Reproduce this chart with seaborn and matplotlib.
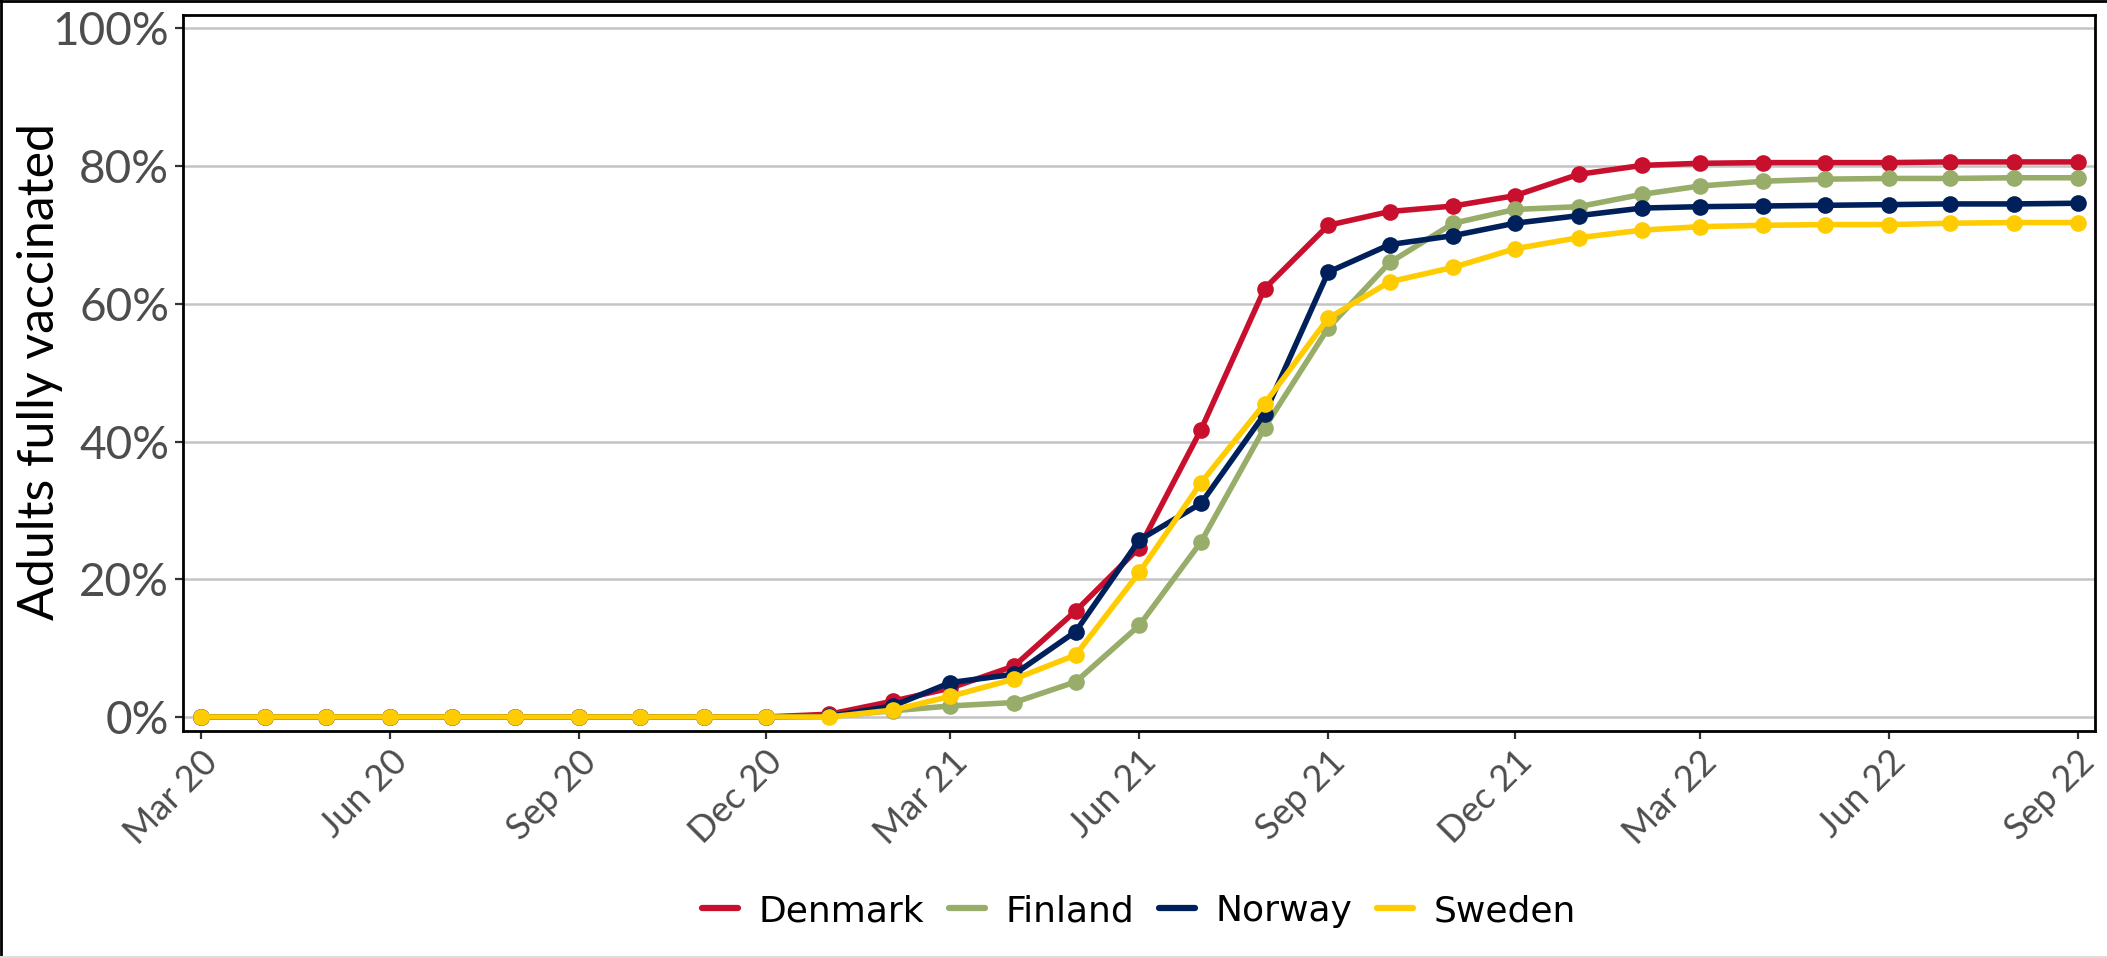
import pandas as pd
import seaborn as sns
import matplotlib.pyplot as plt
import matplotlib.dates as mdates
from matplotlib.lines import Line2D

# monthly share of adults fully vaccinated (%), Mar 2020 - Sep 2022
months = pd.date_range("2020-03-01", "2022-09-01", freq="MS")

denmark = [0, 0, 0, 0, 0, 0, 0, 0, 0, 0,
           0.4, 2.3, 4.2, 7.4, 15.4, 24.6, 41.7, 62.2, 71.4, 73.4, 74.2,
           75.7, 78.8, 80.1, 80.4, 80.5, 80.5, 80.5, 80.6, 80.6, 80.6]
finland = [0, 0, 0, 0, 0, 0, 0, 0, 0, 0,
           0.1, 0.9, 1.6, 2.1, 5.1, 13.3, 25.4, 42.0, 56.5, 66.0, 71.7,
           73.7, 74.1, 75.9, 77.1, 77.8, 78.1, 78.2, 78.2, 78.3, 78.3]
norway = [0, 0, 0, 0, 0, 0, 0, 0, 0, 0,
          0.1, 1.6, 5.0, 6.2, 12.4, 25.7, 31.0, 44.0, 64.6, 68.6, 69.9,
          71.7, 72.8, 73.9, 74.1, 74.2, 74.3, 74.4, 74.5, 74.5, 74.6]
sweden = [0, 0, 0, 0, 0, 0, 0, 0, 0, 0,
          0.0, 1.0, 3.0, 5.5, 9.0, 21.0, 34.0, 45.5, 57.9, 63.2, 65.3,
          68.0, 69.6, 70.7, 71.2, 71.4, 71.5, 71.5, 71.7, 71.8, 71.8]

countries = ["Denmark", "Finland", "Norway", "Sweden"]
colors = ["#C8102E", "#97AD69", "#00205B", "#FECC00"]

df = pd.concat([
    pd.DataFrame({"date": months, "share": vals, "country": name})
    for name, vals in zip(countries, [denmark, finland, norway, sweden])
])

sns.set_style("white")
plt.rcParams["font.family"] = ["Lato", "DejaVu Sans"]

fig = plt.figure(figsize=(21.07, 9.58), dpi=100)
ax = fig.add_axes([0.0869, 0.2370, 0.9074, 0.7473])

sns.lineplot(data=df, x="date", y="share", hue="country", hue_order=countries,
             palette=colors, marker="o", markersize=12, markeredgewidth=0,
             linewidth=4, legend=False, ax=ax, zorder=3)

ax.set_xlim(pd.Timestamp("2020-03-01") - pd.Timedelta(days=8.8),
            pd.Timestamp("2022-09-01") + pd.Timedelta(days=8.5))
ax.set_ylim(-2.03, 101.93)
ax.set_yticks([0, 20, 40, 60, 80, 100])
ax.set_yticklabels([f"{v}%" for v in [0, 20, 40, 60, 80, 100]])

ax.xaxis.set_major_locator(mdates.MonthLocator(bymonth=[3, 6, 9, 12]))
ax.xaxis.set_major_formatter(mdates.DateFormatter("%b %y"))
plt.setp(ax.get_xticklabels(), rotation=45, ha="right", rotation_mode="anchor")

ax.grid(axis="y", color="#C4C4C4", linewidth=1.8)
ax.grid(axis="x", visible=False)
for s in ax.spines.values():
    s.set_visible(True)
    s.set_color("black")
    s.set_linewidth(2)

ax.tick_params(axis="y", labelsize=33, colors="#333333", labelcolor="#4D4D4D",
               length=6, width=1.6, direction="out", left=True, pad=4)
ax.tick_params(axis="x", labelsize=26, colors="#333333", labelcolor="#4D4D4D",
               length=6, width=1.6, direction="out", bottom=True, pad=4)

ax.set_xlabel("")
ax.set_ylabel("")
fig.text(0.019, 0.612, "Adults fully vaccinated", rotation=90, ha="center",
         va="center", fontsize=36, color="black")

handles = [Line2D([0], [0], color=c, linewidth=4.5) for c in colors]
fig.legend(handles, countries, loc="center", bbox_to_anchor=(0.5406, 0.049),
           ncol=4, frameon=False, handlelength=1.0, handletextpad=0.55,
           columnspacing=0.7, labelcolor="black",
           prop={"family": ["DejaVu Sans"], "size": 26})

# thin frame lines along the image edges
fig.add_artist(Line2D([0, 1], [0.999, 0.999], transform=fig.transFigure, color="black", linewidth=2))
fig.add_artist(Line2D([0.0005, 0.0005], [0, 1], transform=fig.transFigure, color="black", linewidth=2))
fig.add_artist(Line2D([0, 1], [0.001, 0.001], transform=fig.transFigure, color="#DDDDDD", linewidth=1.5))

fig.savefig("out.png", dpi=100)
